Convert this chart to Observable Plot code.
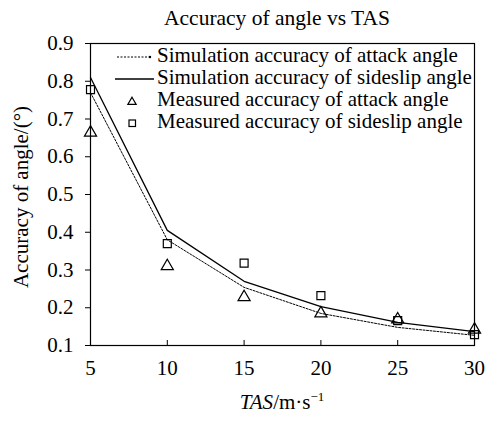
<!DOCTYPE html>
<html><head><meta charset="utf-8">
<script src="https://cdn.jsdelivr.net/npm/d3@7"></script>
<script src="https://cdn.jsdelivr.net/npm/@observablehq/plot@0.6"></script>
<style>
body{margin:0;background:#fff;}
#chart{position:relative;width:488px;height:421px;}
</style></head>
<body><div id="chart"></div>
<script>
const tas = [5, 10, 15, 20, 25, 30];
const simAttack = [0.77, 0.38, 0.254, 0.185, 0.148, 0.127];
const simSideslip = [0.81, 0.405, 0.27, 0.203, 0.161, 0.137];
const measAttack = [0.664, 0.31, 0.228, 0.185, 0.169, 0.142];
const measSideslip = [0.778, 0.37, 0.318, 0.232, 0.166, 0.129];
const yTicks = [0.1, 0.2, 0.3, 0.4, 0.5, 0.6, 0.7, 0.8, 0.9];
const xTicks = [5, 10, 15, 20, 25, 30];
const legendLabels = ["Simulation accuracy of attack angle", "Simulation accuracy of sideslip angle", "Measured accuracy of attack angle", "Measured accuracy of sideslip angle"];
const title = "Accuracy of angle vs TAS";
const yLabel = "Accuracy of angle/(°)";

const FONT = "Liberation Serif";
const FS = 21;
const rows = (ys) => tas.map((x, i) => ({x, y: ys[i]}));
const W = 488, H = 421;
const plot = Plot.plot({
  width: W, height: H,
  marginLeft: 90, marginRight: 14, marginTop: 43, marginBottom: 76,
  style: {fontFamily: FONT, fontSize: FS + "px", color: "#000", background: "#fff"},
  x: {domain: [5, 30], ticks: xTicks, label: null},
  y: {domain: [0.1, 0.9], ticks: yTicks, label: null},
  marks: [
    Plot.frame({stroke: "#000", strokeWidth: 1.2}),
    Plot.axisY({ticks: yTicks, tickSize: 5, tickPadding: 12, tickFormat: d3.format(".1f"), fontSize: FS, label: null}),
    Plot.axisX({ticks: xTicks, tickSize: -5, tickPadding: 20, fontSize: FS, label: null}),
    Plot.line(rows(simAttack), {x: "x", y: "y", stroke: "#000", strokeWidth: 1, strokeDasharray: "2,1.5"}),
    Plot.line(rows(simSideslip), {x: "x", y: "y", stroke: "#000", strokeWidth: 1.3}),
    Plot.dot(rows(measAttack), {x: "x", y: "y", symbol: "triangle", r: 4.5, stroke: "#000", fill: "none", strokeWidth: 1.2}),
    Plot.dot(rows(measSideslip), {x: "x", y: "y", symbol: "square", r: 4.5, stroke: "#000", fill: "none", strokeWidth: 1.2})
  ]
});
document.getElementById("chart").appendChild(plot);

const svg = d3.select(plot);
svg.append("text").attr("x", 277).attr("y", 25).attr("text-anchor", "middle").attr("font-size", 21.5).attr("fill", "#000").text(title);
svg.append("text").attr("transform", "translate(23,197) rotate(-90)").attr("text-anchor", "middle").attr("dominant-baseline", "middle").attr("font-size", FS).attr("fill", "#000").text(yLabel);
const xl = svg.append("text").attr("x", 282).attr("y", 409).attr("text-anchor", "middle").attr("font-size", FS).attr("fill", "#000");
xl.append("tspan").attr("font-style", "italic").text("TAS");
xl.append("tspan").text("/m·s");
xl.append("tspan").attr("font-size", 13).attr("dy", -8).text("−1");

// legend
const lg = svg.append("g").attr("text-anchor", "start");
const ly = [57, 79, 101, 123];
legendLabels.forEach((t, i) => {
  const y = ly[i];
  if (i === 0) {
    lg.append("line").attr("x1", 117).attr("x2", 150).attr("y1", y).attr("y2", y).attr("stroke", "#000").attr("stroke-dasharray", "2,1.5");
    lg.append("circle").attr("cx", 150).attr("cy", y).attr("r", 1.2).attr("fill", "#000");
  } else if (i === 1) {
    lg.append("line").attr("x1", 115).attr("x2", 154).attr("y1", y).attr("y2", y).attr("stroke", "#000").attr("stroke-width", 1.3);
  } else if (i === 2) {
    lg.append("path").attr("d", d3.symbol(d3.symbolTriangle, 30)()).attr("transform", `translate(132,${y + 1})`).attr("fill", "none").attr("stroke", "#000").attr("stroke-width", 1.2);
  } else {
    lg.append("rect").attr("x", 129).attr("y", y - 3).attr("width", 6.5).attr("height", 6.5).attr("fill", "none").attr("stroke", "#000").attr("stroke-width", 1.2);
  }
  lg.append("text").attr("x", 157).attr("y", y).attr("text-anchor", "start").attr("dominant-baseline", "middle").attr("font-size", FS).attr("fill", "#000").text(t);
});
svg.selectAll("text").style("font-family", FONT);
</script></body></html>
